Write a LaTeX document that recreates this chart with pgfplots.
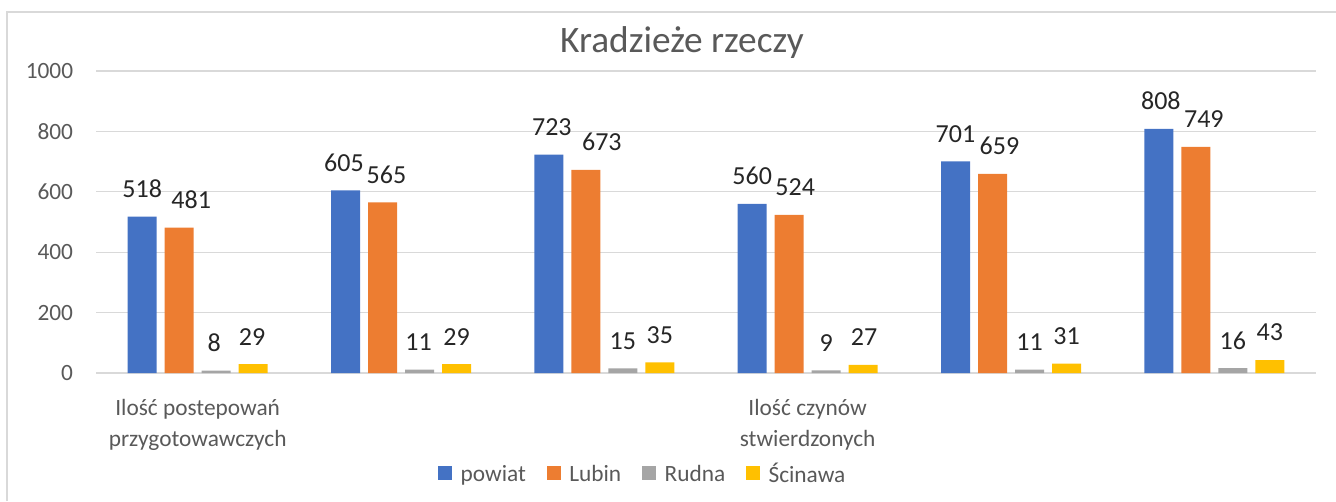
\documentclass[border=0pt]{standalone}
\usepackage{pgfplots}
\usepackage{pgfplotstable}
\pgfplotsset{compat=1.18}
\usepackage{fontspec}
\setmainfont{Carlito}
\definecolor{cBlue}{HTML}{4472C4}
\definecolor{cOrange}{HTML}{ED7D31}
\definecolor{cGray}{HTML}{A5A5A5}
\definecolor{cYellow}{HTML}{FFC000}
\definecolor{gridC}{HTML}{D9D9D9}
\definecolor{textC}{HTML}{595959}
\definecolor{dataC}{HTML}{262626}
\pgfplotstableread{
x y dx
0 518 0
1 605 -1.5
2 723 3
3 560 0
4 701 0
5 808 2
}\powiat
\pgfplotstableread{
x y dx
0 481 12
1 565 4
2 673 16
3 524 6
4 659 7
5 749 8
}\lubin
\pgfplotstableread{
x y dx
0 8 -2
1 11 -1
2 15 0
3 9 0
4 11 0
5 16 0
}\rudna
\pgfplotstableread{
x y dx
0 29 -1
1 29 0
2 35 0
3 27 1
4 31 0
5 43 0
}\scinawa
\begin{document}
\begin{tikzpicture}
\path[use as bounding box] (0,0) rectangle (1002pt,375.75pt);
\draw[gridC, line width=1.2pt] (5.25pt,0pt) -- (5.25pt,366.75pt) -- (1002pt,366.75pt);
\node[font=\fontsize{28}{30}\selectfont, text=textC] at (511.5pt,344pt) {Kradzieże rzeczy};
\begin{axis}[
  at={(72pt,96pt)}, anchor=south west,
  scale only axis, width=915pt, height=226.5pt,
  xmin=-0.5, xmax=5.5, ymin=0, ymax=1000,
  enlargelimits=false, clip=false,
  /pgf/number format/assume math mode=true,
  /pgf/number format/1000 sep={},
  ybar=6pt, bar width=21.75pt,
  ytick={0,200,400,600,800,1000},
  xtick={0,1,2,3,4,5},
  xticklabels={{Ilość postepowań\\przygotowawczych},{},{},{Ilość czynów\\stwierdzonych},{},{}},
  ymajorgrids, grid style={gridC, line width=0.8pt},
  axis line style={draw=none}, tick style={draw=none},
  yticklabel style={font=\fontsize{17.5}{20}\selectfont, text=textC, inner sep=0pt, anchor=east, xshift=-17pt},
  xticklabel style={font=\fontsize{17.5}{23}\selectfont, text=textC, inner sep=0pt, anchor=north, align=center, yshift=-15.5pt},
  nodes near coords,
  visualization depends on={\thisrow{dx} \as \dx},
  every node near coord/.append style={font=\fontsize{19.5}{22}\selectfont, text=dataC, anchor=south, inner sep=0pt, yshift=14pt, xshift={\dx*0.75pt}},
  legend columns=4,
  legend style={at={(0.4484,-0.3344)}, anchor=center, draw=none, fill=none, font=\fontsize{17.5}{20}\selectfont, text=textC,
    /tikz/every odd column/.append style={column sep=4.5pt},
    /tikz/every even column/.append style={column sep=13.5pt}},
  legend image code/.code={\fill[#1] (0pt,-4.5pt) rectangle (10.5pt,6pt);},
]
\addplot[fill=cBlue, draw=none] table[x=x,y=y] {\powiat};
\addplot[fill=cOrange, draw=none] table[x=x,y=y] {\lubin};
\addplot[fill=cGray, draw=none] table[x=x,y=y] {\rudna};
\addplot[fill=cYellow, draw=none] table[x=x,y=y] {\scinawa};
\legend{powiat, Lubin, Rudna, Ścinawa}
\end{axis}
\end{tikzpicture}
\end{document}
